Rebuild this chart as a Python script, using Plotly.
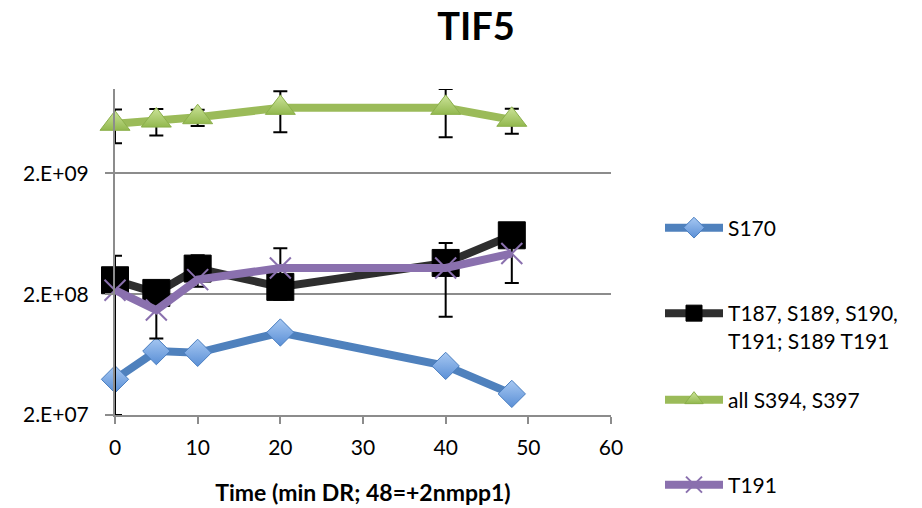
import plotly.graph_objects as go
import math

time_min = [0, 5, 10, 20, 40, 48]
s170 = [3.95e7, 6.76e7, 6.54e7, 9.64e7, 5.1e7, 2.99e7]
t187 = [2.61e8, 2.05e8, 3.26e8, 2.30e8, 3.63e8, 6.15e8]
s394 = [5.15e9, 5.48e9, 5.84e9, 6.98e9, 6.98e9, 5.56e9]
t191 = [2.16e8, 1.48e8, 2.64e8, 3.30e8, 3.30e8, 4.34e8]

err_t187 = [0, 0, 0.95e8, 0, 0, 0]
err_s394 = [1.6e9, 1.35e9, 0.9e9, 2.6e9, 3.0e9, 1.3e9]
err_t191_plus = [2.0e8, 6.2e7, 0, 1.5e8, 2.0e8, 1.86e8]
err_t191_minus = [1.96e8, 6.2e7, 0, 1.5e8, 2.0e8, 1.86e8]

names = ["S170", "T187, S189, S190,<br>T191; S189 T191", "all S394, S397", "T191"]
ytick_vals = [2e7, 2e8, 2e9]
ytick_text = ["2.E+07", "2.E+08", "2.E+09"]

FONT = "Lato"
fig = go.Figure()

fig.add_trace(go.Scatter(
    x=time_min, y=s170, name=names[0], mode="lines+markers", cliponaxis=False,
    line=dict(color="#4F81BD", width=8),
    marker=dict(symbol="diamond", size=21, color="#A7C8F2",
                gradient=dict(type="vertical", color="#5A8FD6"),
                line=dict(color="#4A7EC0", width=1)),
    legend="legend"))

fig.add_trace(go.Scatter(
    x=time_min, y=t187, name=names[1], mode="lines+markers", cliponaxis=False,
    line=dict(color="#2E2E2E", width=8),
    marker=dict(symbol="square", size=27, color="#000000",
                line=dict(color="#000000", width=1)),
    error_y=dict(type="data", array=err_t187, color="#000000", thickness=2, width=7),
    legend="legend2"))

fig.add_trace(go.Scatter(
    x=time_min, y=s394, name=names[2], mode="lines+markers", cliponaxis=False,
    line=dict(color="#9BBB59", width=8),
    marker=dict(symbol="triangle-up", size=26, color="#CDE49A",
                gradient=dict(type="vertical", color="#92B84E"),
                line=dict(color="#8BAF4B", width=1)),
    error_y=dict(type="data", array=err_s394, color="#000000", thickness=2, width=7),
    legend="legend3"))

fig.add_trace(go.Scatter(
    x=time_min, y=t191, name=names[3], mode="lines+markers", cliponaxis=False,
    line=dict(color="#8A70AE", width=8),
    marker=dict(symbol="x-thin", size=21, color="#8A70AE",
                line=dict(color="#8A70AE", width=2)),
    error_y=dict(type="data", array=err_t191_plus, arrayminus=err_t191_minus,
                 symmetric=False, color="#000000", thickness=2, width=7),
    legend="legend4"))

L, R, T, B = 115, 311, 89, 93
W, H = 922, 508

def cx(px):
    return px / W

def cy(py):
    return 1 - py / H

leg_common = dict(xref="container", yref="container", xanchor="left", yanchor="middle",
                  bgcolor="rgba(0,0,0,0)",
                  font=dict(family=FONT, size=21, color="#000000"),
                  itemwidth=58, valign="top")

fig.update_layout(
    width=W, height=H,
    margin=dict(l=L, r=R, t=T, b=B, autoexpand=False),
    paper_bgcolor="white", plot_bgcolor="white",
    showlegend=True,
    font=dict(family=FONT, size=21, color="#000000"),
    title=dict(text="<b>TIF5</b>", x=476 / W, xanchor="center", y=1 - 27 / H, yanchor="middle",
               font=dict(family=FONT, size=38, color="#000000")),
    xaxis=dict(range=[0, 60], dtick=10, tick0=0, showgrid=False, zeroline=False,
               showline=True, linecolor="#8C8C8C", linewidth=2,
               ticks="outside", ticklen=7, tickwidth=2, tickcolor="#8C8C8C",
               ticklabelstandoff=6,
               tickfont=dict(family=FONT, size=21),
               title=dict(text="<b>Time (min DR; 48=+2nmpp1)</b>", standoff=27,
                          font=dict(family=FONT, size=23))),
    yaxis=dict(type="log", range=[math.log10(2e7), 10], tickvals=ytick_vals, ticktext=ytick_text,
               showgrid=True, gridcolor="#8C8C8C", gridwidth=2, zeroline=False,
               showline=True, linecolor="#8C8C8C", linewidth=2,
               ticks="outside", ticklen=8, tickwidth=2, tickcolor="#8C8C8C",
               ticklabelstandoff=12,
               tickfont=dict(family=FONT, size=21)),
    legend=dict(x=cx(660), y=cy(228), **leg_common),
    legend2=dict(x=cx(660), y=cy(327), **leg_common),
    legend3=dict(x=cx(660), y=cy(400), **leg_common),
    legend4=dict(x=cx(660), y=cy(485), **leg_common),
)

fig.write_html(
    "out.html",
    config={"displayModeBar": False},
    post_script="document.body.style.margin='0';document.body.style.overflow='hidden';",
)
